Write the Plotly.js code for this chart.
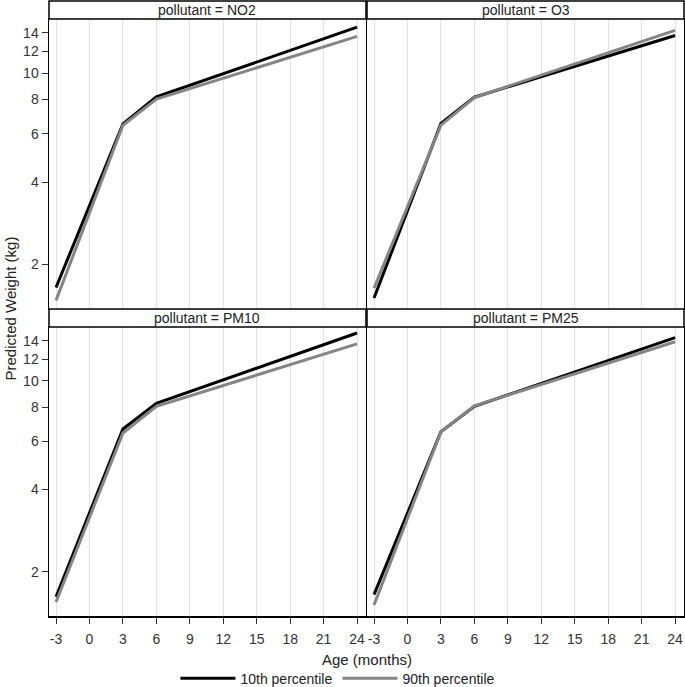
<!DOCTYPE html>
<html>
<head>
<meta charset="utf-8">
<script src="https://cdn.plot.ly/plotly-3.0.1.min.js"></script>
<style>html,body{margin:0;padding:0;background:#fff}#chart{width:685px;height:687px}</style>
</head>
<body>
<div id="chart"></div>
<script>
var ages = [-3, 3, 6, 24];
var pollutants = ["NO2", "O3", "PM10", "PM25"];
var no2_p10 = [1.65, 6.52, 8.18, 14.7];
var no2_p90 = [1.48, 6.45, 8.03, 13.6];
var o3_p10 = [1.51, 6.55, 8.16, 13.7];
var o3_p90 = [1.64, 6.45, 8.14, 14.3];
var pm10_p10 = [1.62, 6.66, 8.28, 14.97];
var pm10_p90 = [1.55, 6.44, 8.07, 13.65];
var pm25_p10 = [1.65, 6.51, 8.07, 14.4];
var pm25_p90 = [1.51, 6.51, 8.10, 13.9];
var xTicks = [-3, 0, 3, 6, 9, 12, 15, 18, 21, 24];
var yTicks = [2, 4, 6, 8, 10, 12, 14];
var seriesNames = ["10th percentile", "90th percentile"];

var p10 = [no2_p10, o3_p10, pm10_p10, pm25_p10];
var p90 = [no2_p90, o3_p90, pm10_p90, pm25_p90];
var axX = ["x", "x2", "x3", "x4"];
var axY = ["y", "y2", "y3", "y4"];

var traces = [];
for (var i = 0; i < 4; i++) {
  traces.push({x: ages, y: p10[i], xaxis: axX[i], yaxis: axY[i], type: "scatter", mode: "lines",
    name: seriesNames[0], legendgroup: "a", showlegend: i === 0,
    line: {color: "#000000", width: 3}});
}
for (var i = 0; i < 4; i++) {
  traces.push({x: ages, y: p90[i], xaxis: axX[i], yaxis: axY[i], type: "scatter", mode: "lines",
    name: seriesNames[1], legendgroup: "b", showlegend: i === 0,
    line: {color: "#858585", width: 3}});
}

var fnt = {family: "Liberation Sans, Arial, sans-serif", size: 14, color: "#333333"};
var xdomL = [0, 0.4992], xdomR = [0.5008, 1];
var ydomT = [0.4992, 0.9707], ydomB = [0, 0.4699];

function xa(dom, anchor, showLabels) {
  return {domain: dom, anchor: anchor, range: [-3.63, 24.8], tickvals: xTicks, ticktext: xTicks.map(String),
    showticklabels: showLabels, ticks: showLabels ? "outside" : "", ticklen: 6, tickcolor: "#333",
    ticklabelstandoff: 4,
    showgrid: true, gridcolor: "#e3e3e3", gridwidth: 1, zeroline: false,
    showline: true, linecolor: "#000", linewidth: 1.5, mirror: true, tickfont: fnt};
}
function ya(dom, anchor, showLabels) {
  return {domain: dom, anchor: anchor, type: "log", range: [0.139, 1.197], tickvals: yTicks, ticktext: yTicks.map(String),
    showticklabels: showLabels, ticks: showLabels ? "outside" : "", ticklen: 6, tickcolor: "#333",
    showgrid: false, zeroline: false, showline: true, linecolor: "#000", linewidth: 1.5, mirror: true, tickfont: fnt};
}

var shapes = [];
var annotations = [];
var strips = [
  {x: xdomL, y: [0.9707, 1], t: pollutants[0]},
  {x: xdomR, y: [0.9707, 1], t: pollutants[1]},
  {x: xdomL, y: [0.4699, 0.4992], t: pollutants[2]},
  {x: xdomR, y: [0.4699, 0.4992], t: pollutants[3]}
];
strips.forEach(function(s) {
  shapes.push({type: "rect", xref: "paper", yref: "paper", x0: s.x[0], x1: s.x[1], y0: s.y[0], y1: s.y[1],
    fillcolor: "#ffffff", line: {color: "#000", width: 1.5}});
  annotations.push({xref: "paper", yref: "paper", x: (s.x[0] + s.x[1]) / 2, y: (s.y[0] + s.y[1]) / 2,
    text: "pollutant = " + s.t, showarrow: false, xanchor: "center", yanchor: "middle",
    font: {family: fnt.family, size: 14, color: "#222"}});
});
annotations.push({xref: "paper", yref: "paper", x: -0.0614, y: 0.5, text: "Predicted Weight (kg)", textangle: -90,
  showarrow: false, xanchor: "center", yanchor: "middle", font: {family: fnt.family, size: 15, color: "#222"}});
annotations.push({xref: "paper", yref: "paper", x: 0.5, y: -0.07, text: "Age (months)",
  showarrow: false, xanchor: "center", yanchor: "middle", font: {family: fnt.family, size: 15, color: "#222"}});

var layout = {
  width: 685, height: 687,
  margin: {l: 49, r: 1, t: 1, b: 71, autoexpand: false},
  paper_bgcolor: "#fff", plot_bgcolor: "#fff",
  showlegend: true,
  legend: {orientation: "h", x: 0.455, xanchor: "center", y: -0.102, yanchor: "middle",
    font: {family: fnt.family, size: 14, color: "#222"}, itemwidth: 55, tracegroupgap: 0, itemclick: false},
  xaxis: xa(xdomL, "y", false),
  xaxis2: xa(xdomR, "y2", false),
  xaxis3: xa(xdomL, "y3", true),
  xaxis4: xa(xdomR, "y4", true),
  yaxis: ya(ydomT, "x", true),
  yaxis2: ya(ydomT, "x2", false),
  yaxis3: ya(ydomB, "x3", true),
  yaxis4: ya(ydomB, "x4", false),
  shapes: shapes,
  annotations: annotations
};

Plotly.newPlot("chart", traces, layout, {displayModeBar: false, staticPlot: true});
</script>
</body>
</html>
